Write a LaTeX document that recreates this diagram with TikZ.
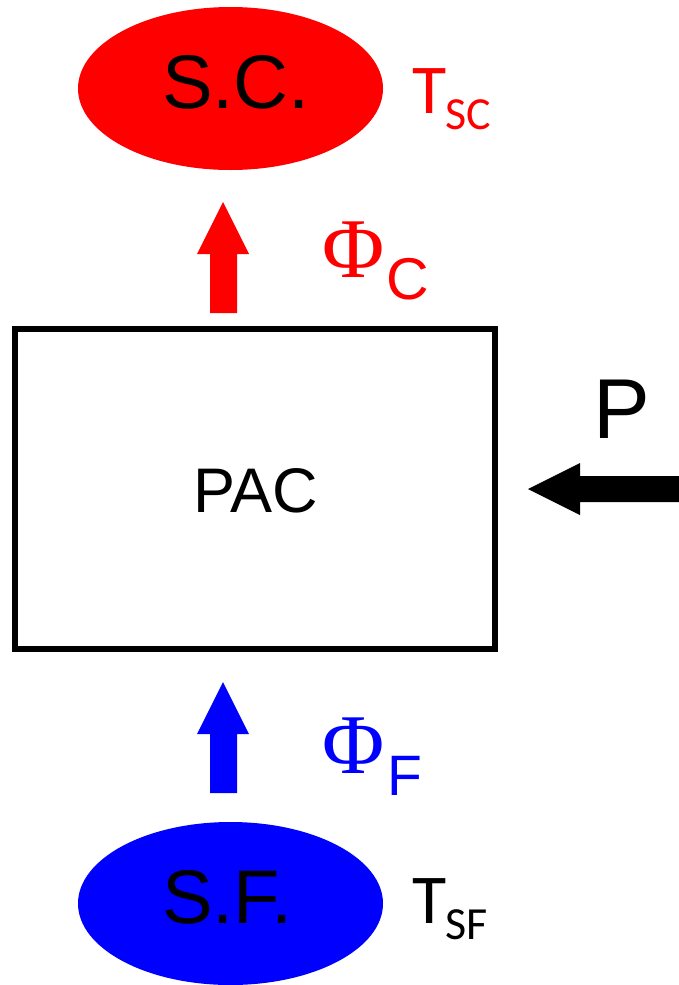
\documentclass[tikz,border=0pt]{standalone}
\usepackage{fontspec}
\setmainfont{Liberation Sans}
\newfontfamily\serifphi{Liberation Serif}
\newfontfamily\carl{Carlito}
\usetikzlibrary{shapes.geometric}
\definecolor{pred}{HTML}{FF0000}
\definecolor{pblue}{HTML}{0000FF}
\newcommand{\fs}[1]{\fontsize{#1}{#1}\selectfont}
\tikzset{
  txt/.style={inner sep=0pt, outer sep=0pt, anchor=base west},
  blob/.style={ellipse, inner sep=0pt, minimum width=305pt, minimum height=163pt, draw=none},
  blockarrow/.style={draw=none}
}
\begin{document}
\begin{tikzpicture}[x=1pt,y=-1pt]
\useasboundingbox (0,0) rectangle (679,985);
% ellipses
\node[blob, fill=pred] (sc) at (230.5,88.5) {};
\node[blob, fill=pblue] (sf) at (230.5,903.5) {};
\node[txt] (sclab) at (162,108) {\fs{76}S.C.};
\node[txt] (sflab) at (162,923) {\fs{76}S.F.};
% temperatures
\node[txt, text=pred] (tsc) at (412,113) {\carl\fs{70}T};
\node[txt, text=pred] (tscsub) at (445,129) {\carl\fs{46}SC};
\node[txt] (tsf) at (412,923) {\carl\fs{70}T};
\node[txt] (tsfsub) at (445,939) {\carl\fs{46}SF};
% PAC box
\draw[line width=6pt] (15,329) rectangle (495,649);
\node (pac) at (255,489) {};
\node[txt] (paclab) at (193,512) {\fs{63}PAC};
% power
\node[txt] (plab) at (593.5,438) {\fs{85}P};
\coordinate (ptip) at (528,489);
\fill[blockarrow] (ptip) -- (580,463) -- (580,476) -- (679,476) -- (679,502) -- (580,502) -- (580,515) -- cycle;
% flux arrows
\coordinate (ctip) at (223,202);
\fill[blockarrow, pred] (ctip) -- (249,254) -- (237,254) -- (237,313) -- (210,313) -- (210,254) -- (197,254) -- cycle;
\coordinate (ftip) at (223,682);
\fill[blockarrow, pblue] (ftip) -- (249,734) -- (237,734) -- (237,793) -- (210,793) -- (210,734) -- (197,734) -- cycle;
% flux labels
\node[txt, text=pred] (phic) at (322,277) {\serifphi\fs{85}Φ};
\node[txt, text=pred] (phicsub) at (386,299) {\fs{59}C};
\node[txt, text=pblue] (phif) at (322,773) {\serifphi\fs{85}Φ};
\node[txt, text=pblue] (phifsub) at (387.5,795) {\fs{57}F};
\end{tikzpicture}
\end{document}
